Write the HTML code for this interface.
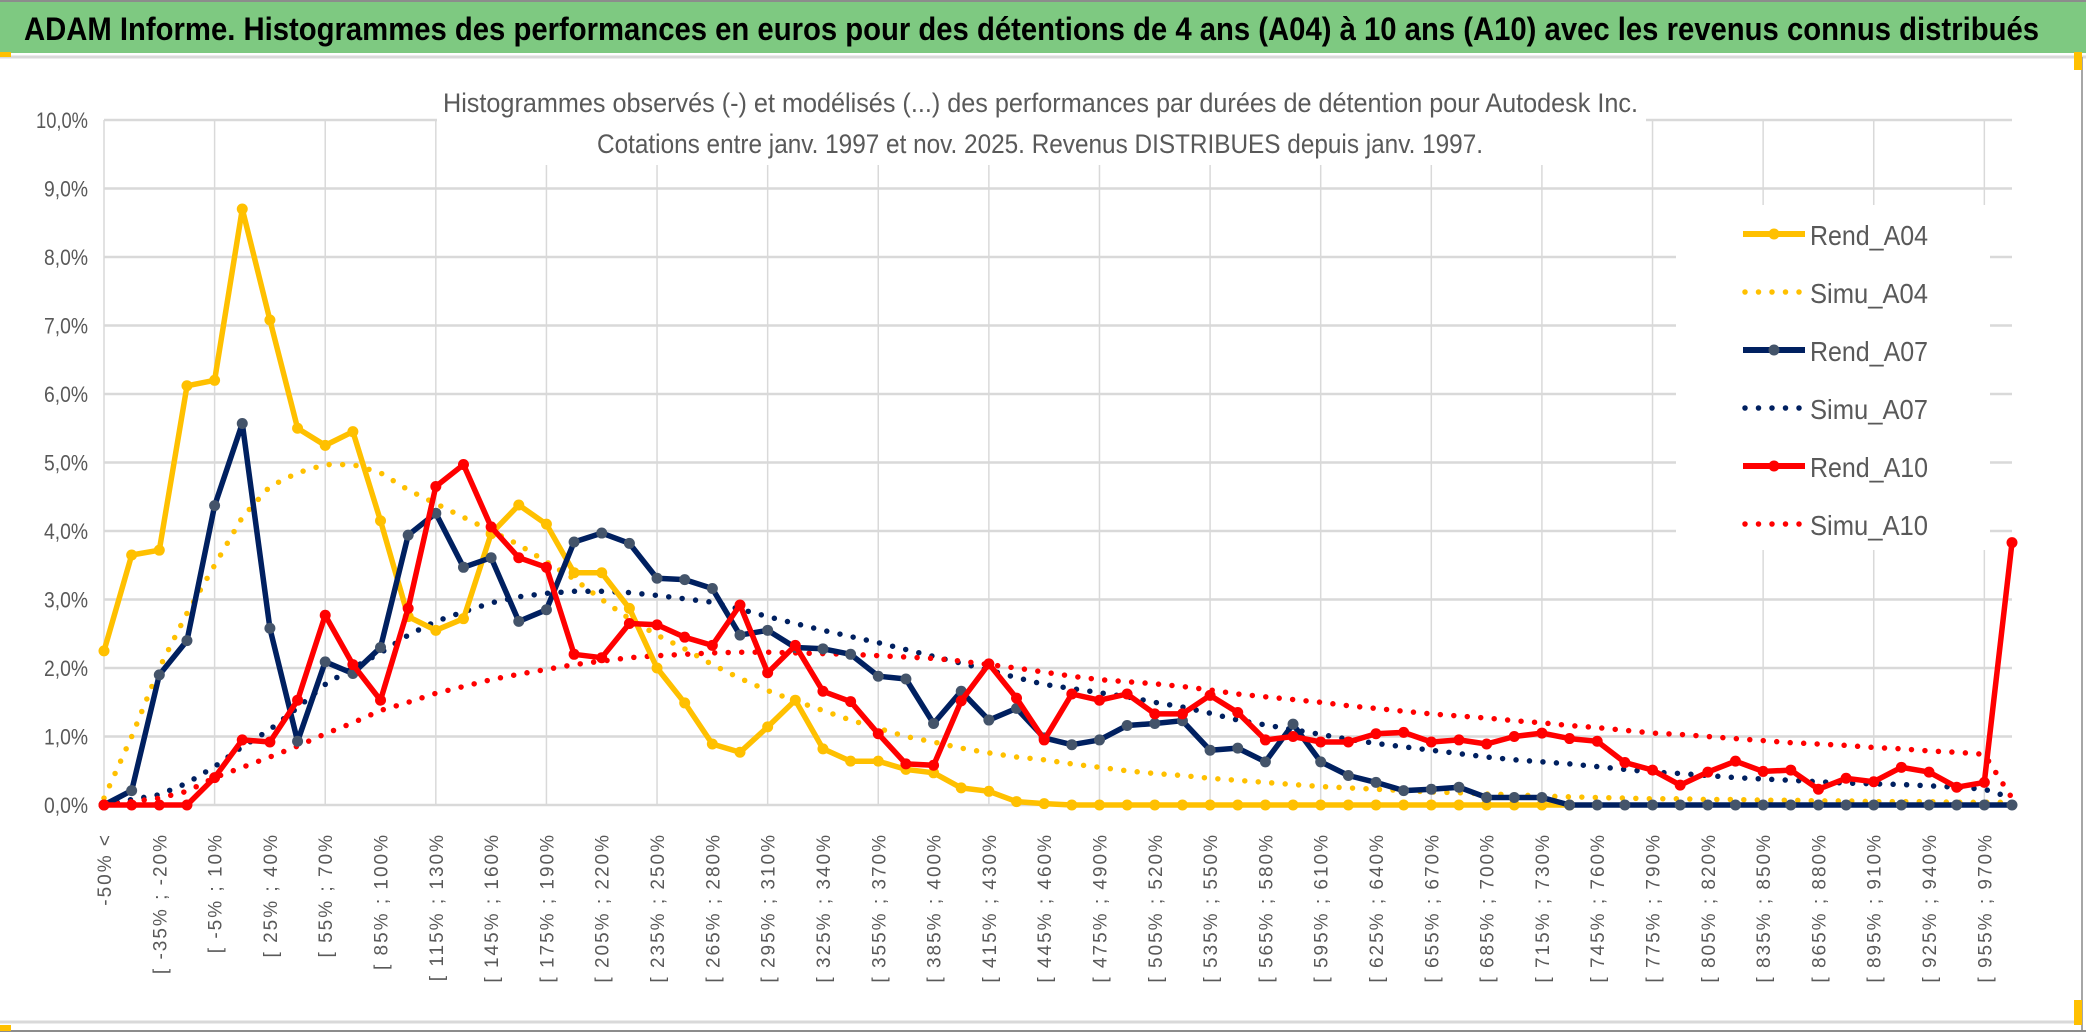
<!DOCTYPE html>
<html><head><meta charset="utf-8"><style>
html,body{margin:0;padding:0;background:#fff;}
svg{display:block;font-family:"Liberation Sans",sans-serif;}
</style></head><body>
<svg id="chart" width="2086" height="1033" viewBox="0 0 2086 1033">
<rect x="0" y="0" width="2086" height="1033" fill="#fff"/>
<rect x="0" y="0" width="2086" height="53" fill="#7ec981"/>
<line x1="0" y1="1" x2="2086" y2="1" stroke="#8c8c8c" stroke-width="2"/>
<line x1="0" y1="57" x2="2086" y2="57" stroke="#d9d9d9" stroke-width="3"/>
<line x1="2082" y1="57" x2="2082" y2="1030" stroke="#a6a6a6" stroke-width="2"/>
<line x1="0" y1="1022" x2="2082" y2="1022" stroke="#d9d9d9" stroke-width="3"/>
<line x1="0" y1="1031" x2="2086" y2="1031" stroke="#8c8c8c" stroke-width="2"/>
<rect x="0" y="52" width="11" height="5" fill="#ffc000"/>
<rect x="0" y="1025" width="11" height="6" fill="#ffc000"/>
<rect x="2074" y="52" width="8" height="18" fill="#ffc000"/>
<rect x="2074" y="1000" width="8" height="25" fill="#ffc000"/>
<text x="24" y="40" font-size="32" font-weight="bold" fill="#000" textLength="2015" lengthAdjust="spacingAndGlyphs">ADAM Informe. Histogrammes des performances en euros pour des détentions de 4 ans (A04) à 10 ans (A10) avec les revenus connus distribués</text>
<g id="grid"></g>
<rect x="437" y="80" width="1209" height="85" fill="#fff"/>
<text x="443" y="112" font-size="27" fill="#595959" textLength="1195" lengthAdjust="spacingAndGlyphs">Histogrammes observés (-) et modélisés (...) des performances par durées de détention pour Autodesk Inc.</text>
<text x="597" y="153" font-size="27" fill="#595959" textLength="886" lengthAdjust="spacingAndGlyphs">Cotations entre janv. 1997 et nov. 2025. Revenus DISTRIBUES depuis janv. 1997.</text>
<g id="yaxis"></g>
<g id="xaxis"></g>
<g id="series"></g>
<g id="legend"></g>
</svg>
<script>
const yTicks = [0,1,2,3,4,5,6,7,8,9,10];
const rendA04 = [2.25,3.65,3.72,6.12,6.2,8.7,7.08,5.5,5.25,5.45,4.15,2.75,2.55,2.72,3.96,4.38,4.1,3.39,3.39,2.87,2.0,1.49,0.89,0.77,1.14,1.53,0.82,0.64,0.64,0.52,0.47,0.25,0.2,0.05,0.02,0,0,0,0,0,0,0,0,0,0,0,0,0,0,0,0,0,0,0,null,null,null,null,null,null,null,null,null,null,null,null,null,null,null,null];
const simuA04 = [0.1,1.0,2.0,2.8,3.5,4.2,4.65,4.85,4.97,4.97,4.85,4.6,4.4,4.2,4.0,3.8,3.55,3.3,3.0,2.72,2.48,2.28,2.05,1.85,1.67,1.52,1.38,1.24,1.12,1.0,0.92,0.83,0.76,0.7,0.66,0.6,0.55,0.5,0.46,0.43,0.39,0.36,0.33,0.3,0.27,0.25,0.23,0.21,0.19,0.18,0.16,0.15,0.13,0.12,0.11,0.1,0.09,0.09,0.08,0.08,0.07,0.07,0.06,0.06,0.05,0.05,0.05,0.04,0.04,0.04];
const rendA07 = [0,0.21,1.9,2.4,4.37,5.57,2.58,0.93,2.09,1.92,2.3,3.94,4.26,3.47,3.61,2.68,2.85,3.84,3.97,3.82,3.31,3.29,3.16,2.48,2.55,2.3,2.28,2.2,1.88,1.84,1.19,1.66,1.24,1.41,0.98,0.88,0.95,1.16,1.19,1.23,0.8,0.83,0.63,1.18,0.63,0.43,0.33,0.21,0.23,0.26,0.11,0.11,0.11,0,0,0,0,0,0,0,0,0,0,0,0,0,0,0,0,0];
const simuA07 = [0,0.08,0.15,0.32,0.56,0.85,1.1,1.42,1.76,2.0,2.22,2.48,2.68,2.82,2.95,3.04,3.09,3.12,3.12,3.1,3.06,3.01,2.96,2.86,2.75,2.65,2.55,2.46,2.37,2.27,2.17,2.07,1.97,1.86,1.76,1.7,1.64,1.58,1.5,1.43,1.34,1.24,1.17,1.1,1.03,0.96,0.9,0.85,0.8,0.75,0.7,0.66,0.63,0.6,0.56,0.52,0.48,0.46,0.43,0.4,0.38,0.36,0.34,0.32,0.31,0.3,0.28,0.26,0.23,0.1];
const rendA10 = [0,0,0,0,0.4,0.95,0.92,1.53,2.77,2.05,1.53,2.87,4.65,4.97,4.06,3.61,3.47,2.2,2.15,2.65,2.63,2.45,2.33,2.92,1.93,2.33,1.66,1.51,1.04,0.6,0.58,1.52,2.06,1.56,0.95,1.62,1.53,1.62,1.33,1.33,1.6,1.35,0.95,1.0,0.92,0.92,1.04,1.06,0.92,0.95,0.89,1.0,1.05,0.97,0.93,0.62,0.51,0.29,0.48,0.64,0.49,0.51,0.23,0.39,0.34,0.55,0.48,0.26,0.33,3.83];
const simuA10 = [0,0.05,0.1,0.2,0.4,0.55,0.7,0.86,1.04,1.2,1.38,1.5,1.63,1.73,1.83,1.91,1.98,2.05,2.1,2.15,2.18,2.2,2.22,2.23,2.23,2.22,2.21,2.2,2.18,2.16,2.14,2.1,2.05,2.0,1.94,1.88,1.83,1.8,1.77,1.73,1.68,1.62,1.58,1.54,1.5,1.45,1.41,1.37,1.33,1.3,1.27,1.23,1.2,1.16,1.13,1.09,1.05,1.03,1.0,0.97,0.94,0.91,0.89,0.87,0.84,0.82,0.79,0.77,0.74,0.1];
const NS="http://www.w3.org/2000/svg";
const N = rendA04.length;
const X0=104, X1=2012, Y0=805, Y10=120;
function xs(i){return X0+(X1-X0)*i/(N-1);}
function ys(v){return Y0-(Y0-Y10)*v/10;}
function catLabel(i){
  if(i===0) return "-50% <";
  const a=-50+15*(i-1), b=a+15;
  return "[ "+a+"% ; "+b+"%";
}
function mk(tag,attrs,parent){const e=document.createElementNS(NS,tag);for(const k in attrs)e.setAttribute(k,attrs[k]);parent.appendChild(e);return e;}
const grid=document.getElementById('grid');
yTicks.forEach(t=>{
  const l=mk('line',{x1:X0,x2:X1,y1:ys(t),y2:ys(t),stroke:'#d9d9d9','stroke-width':2.5},grid);
  
  
});
for(let i=0;i<N;i+=4){
  const l=mk('line',{x1:xs(i),x2:xs(i),y1:Y10,y2:Y0,stroke:'#d9d9d9','stroke-width':1.5},grid);
  
  
}
const yax=document.getElementById('yaxis');
yTicks.forEach(t=>{
  const tx=mk('text',{x:88,y:ys(t)+8,'text-anchor':'end','font-size':22,fill:'#595959',textLength:t===10?52:44,lengthAdjust:'spacingAndGlyphs'},yax);
  tx.textContent=t.toFixed(1).replace('.',',')+'%';
  
  
});
const xax=document.getElementById('xaxis');
for(let i=0;i<N;i+=2){
  const x=xs(i)+7, y=833;
  const tx=mk('text',{x:x,y:y,'text-anchor':'end','font-size':19,'letter-spacing':'2',fill:'#595959',transform:`rotate(-90 ${x} ${y})`},xax);
  tx.textContent=catLabel(i);
  
  
}
const ser=document.getElementById('series');
function pathFor(arr){let d='',pen=false;arr.forEach((v,i)=>{if(v===null){pen=false;return;}d+=(pen?'L':'M')+xs(i).toFixed(1)+' '+ys(v).toFixed(1)+' ';pen=true;});return d;}
function dotted(arr,color,name){
  const p=mk('path',{d:pathFor(arr),fill:'none',stroke:color,'stroke-width':5.5,'stroke-linecap':'round','stroke-dasharray':'0 13.5'},ser);
  
  
}
function solid(arr,color,mcolor,name){
  const g=mk('g',{},ser);
  
  
  mk('path',{d:pathFor(arr),fill:'none',stroke:color,'stroke-width':5.5,'stroke-linejoin':'round'},g);
  arr.forEach((v,i)=>{if(v===null)return;
    const c=mk('circle',{cx:xs(i),cy:ys(v),r:5.5,fill:mcolor},g);
    
    
  });
}
dotted(simuA04,'#ffc000','simu-a04-line');
dotted(simuA07,'#002060','simu-a07-line');
dotted(simuA10,'#ff0000','simu-a10-line');
solid(rendA04,'#ffc000','#ffc000','rend-a04-line');
solid(rendA07,'#002060','#44546a','rend-a07-line');
solid(rendA10,'#ff0000','#ff0000','rend-a10-line');
const leg=document.getElementById('legend');
mk('rect',{x:1676,y:205,width:314,height:345,fill:'#fff'},leg);
const items=[['Rend_A04','#ffc000','#ffc000',false],['Simu_A04','#ffc000','',true],['Rend_A07','#002060','#44546a',false],['Simu_A07','#002060','',true],['Rend_A10','#ff0000','#ff0000',false],['Simu_A10','#ff0000','',true]];
items.forEach((it,k)=>{
  const y=234+k*58;
  const g=mk('g',{},leg);
  
  
  if(it[3]){mk('line',{x1:1745,x2:1805,y1:y,y2:y,stroke:it[1],'stroke-width':5.5,'stroke-linecap':'round','stroke-dasharray':'0 13.5'},g);}
  else{mk('line',{x1:1743,x2:1805,y1:y,y2:y,stroke:it[1],'stroke-width':6},g);mk('circle',{cx:1774,cy:y,r:5.5,fill:it[2]},g);}
  const t=mk('text',{x:1810,y:y+11,'font-size':28,fill:'#595959',textLength:118,lengthAdjust:'spacingAndGlyphs'},g);
  t.textContent=it[0];
});
</script>
</body></html>
